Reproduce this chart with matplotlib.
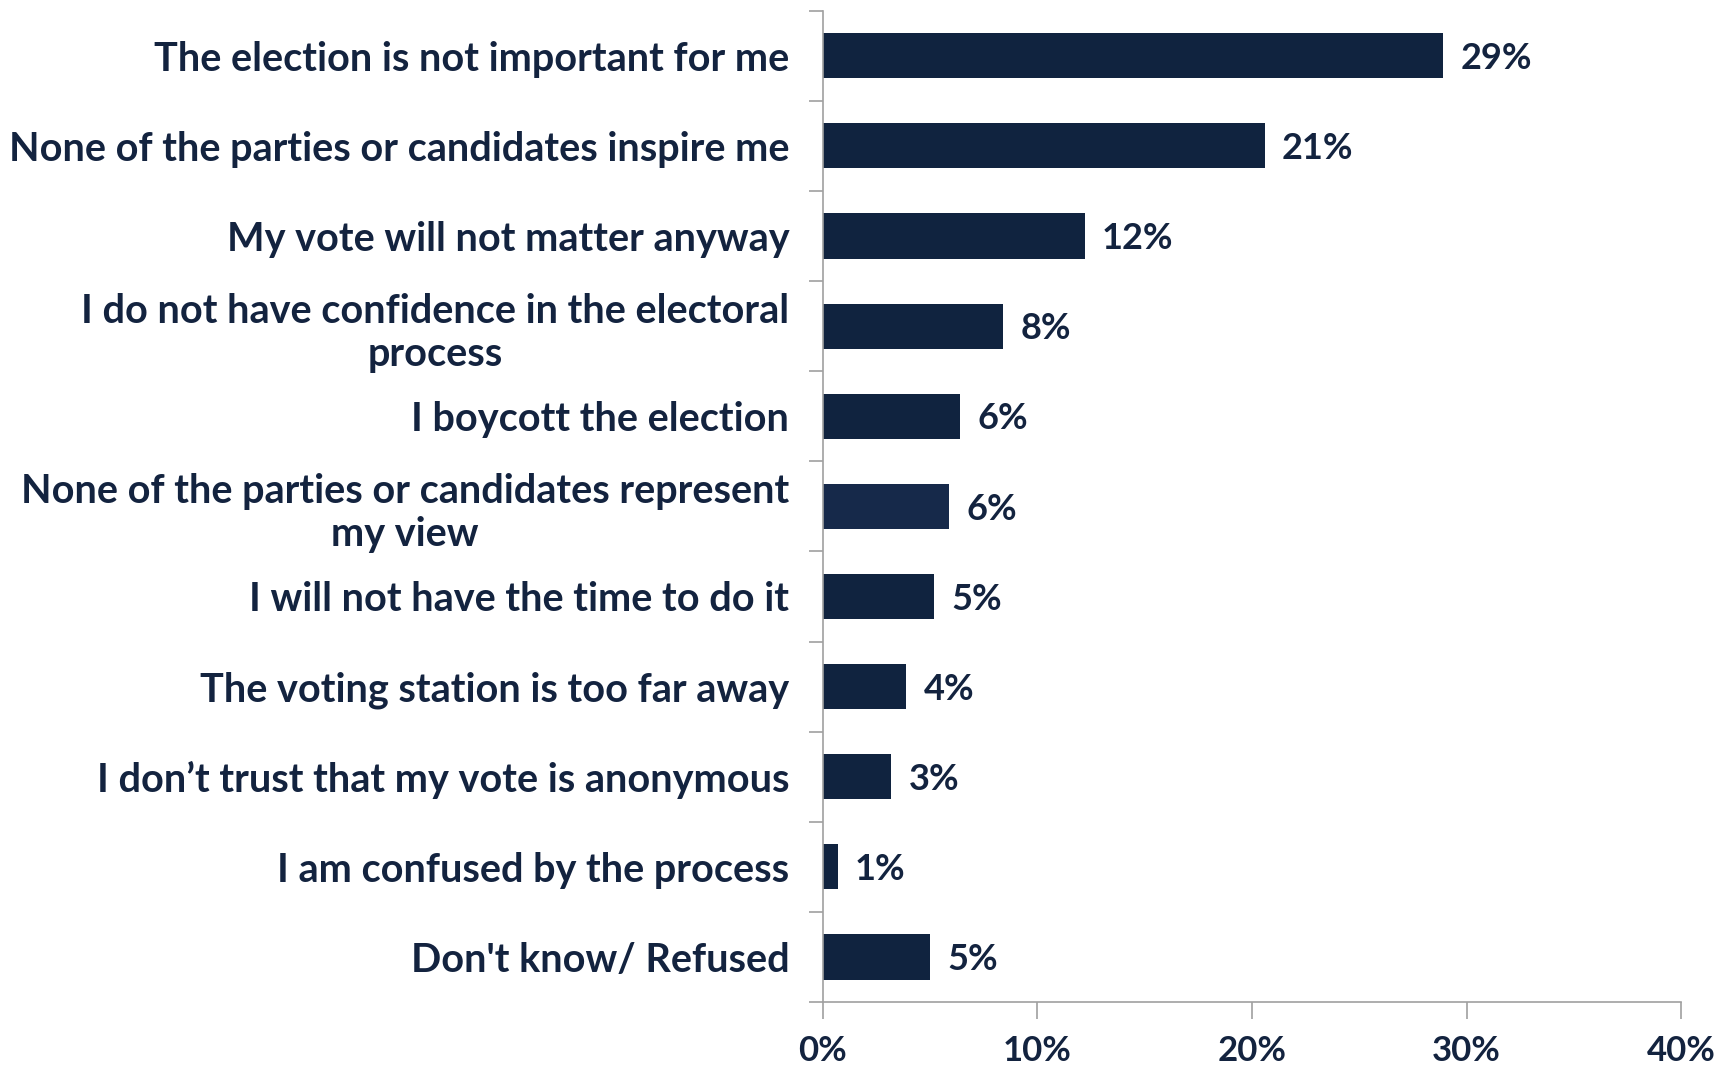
import matplotlib.pyplot as plt
import numpy as np

reasons = [
    "The election is not important for me",
    "None of the parties or candidates inspire me",
    "My vote will not matter anyway",
    "I do not have confidence in the electoral\nprocess",
    "I boycott the election",
    "None of the parties or candidates represent\nmy view",
    "I will not have the time to do it",
    "The voting station is too far away",
    "I don\u2019t trust that my vote is anonymous",
    "I am confused by the process",
    "Don't know/ Refused",
]
values = [28.9, 20.6, 12.2, 8.4, 6.4, 5.9, 5.2, 3.9, 3.2, 0.7, 5.0]
labels = ["29%", "21%", "12%", "8%", "6%", "6%", "5%", "4%", "3%", "1%", "5%"]
xticks = [0, 10, 20, 30, 40]

navy = "#10233f"
txt = "#13233f"
plt.rcParams['font.family'] = ['Lato', 'DejaVu Sans']

fig, ax = plt.subplots(figsize=(17.21, 10.66), dpi=100)
fig.subplots_adjust(left=0.478, right=0.977, top=0.990, bottom=0.060)

y = np.arange(len(reasons))
colors = [navy] * len(reasons)
colors[5] = "#16294a"
ax.barh(y, values, height=0.5, color=colors)
for yi, v, l in zip(y, values, labels):
    ax.text(v + 0.8, yi + 0.03, l, va="center", ha="left", fontsize=26, fontweight="bold", color=txt)

ax.set_ylim(len(reasons) - 0.5, -0.5)
ax.set_xlim(0, 40)
ax.set_yticks(y)
ax.set_yticklabels(reasons, fontsize=28.5, fontweight="bold", color=txt, ha="right",
                   multialignment="center", linespacing=1.2)
ax.set_yticks(np.arange(-0.5, len(reasons)), minor=True)
ax.tick_params(axis="y", which="major", length=0, pad=24)
ax.tick_params(axis="y", which="minor", length=10, color="#a0a0a0", width=1.2)
ax.set_xticks(xticks)
ax.set_xticklabels(["%d%%" % t for t in xticks], fontsize=25, fontweight="bold", color=txt)
ax.tick_params(axis="x", length=12, color="#a0a0a0", width=1.2, pad=12)

for s in ["top", "right"]:
    ax.spines[s].set_visible(False)
for s in ["left", "bottom"]:
    ax.spines[s].set_color("#a0a0a0")
    ax.spines[s].set_linewidth(1.2)

plt.savefig("out.png", dpi=100)
